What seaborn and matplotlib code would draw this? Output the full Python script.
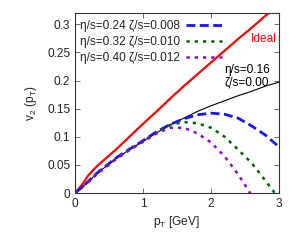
import matplotlib
matplotlib.use("Agg")
import matplotlib.pyplot as plt
import seaborn as sns
import numpy as np

pT = [0.0, 0.1, 0.2, 0.3, 0.4, 0.6, 0.8, 1.0, 1.2, 1.4, 1.6, 1.8, 2.0, 2.2, 2.4, 2.6, 2.8, 3.0]
v2_ideal = [0.0, 0.014, 0.032, 0.045, 0.056, 0.077, 0.100, 0.123, 0.145, 0.168, 0.190, 0.211, 0.232, 0.253, 0.274, 0.294, 0.315, 0.335]
v2_eta016 = [0.0, 0.010, 0.021, 0.032, 0.042, 0.061, 0.077, 0.092, 0.107, 0.121, 0.133, 0.145, 0.155, 0.164, 0.173, 0.181, 0.190, 0.197]
v2_eta024 = [0.0, 0.010, 0.021, 0.033, 0.043, 0.062, 0.078, 0.093, 0.109, 0.122, 0.132, 0.139, 0.142, 0.140, 0.133, 0.119, 0.103, 0.082]
v2_eta032 = [0.0, 0.010, 0.021, 0.032, 0.042, 0.061, 0.077, 0.092, 0.108, 0.121, 0.126, 0.124, 0.116, 0.100, 0.077, 0.053, 0.022, -0.010]
v2_eta040 = [0.0, 0.010, 0.020, 0.031, 0.041, 0.060, 0.076, 0.091, 0.106, 0.116, 0.116, 0.106, 0.090, 0.065, 0.033, -0.005, -0.045, -0.090]

legend_labels = ["η/s=0.24 ζ/s=0.008", "η/s=0.32 ζ/s=0.010", "η/s=0.40 ζ/s=0.012"]
xticks = [0, 1, 2, 3]
yticks = [0, 0.05, 0.1, 0.15, 0.2, 0.25, 0.3]
ytick_labels = ["0", "0.05", "0.1", "0.15", "0.2", "0.25", "0.3"]

sns.set_style("ticks")
plt.rcParams['font.family'] = ['Liberation Sans', 'DejaVu Sans']
plt.rcParams['mathtext.fontset'] = 'custom'
plt.rcParams['mathtext.rm'] = 'Liberation Sans'

fig = plt.figure(figsize=(2.96, 2.40), dpi=100)
ax = fig.add_axes([75/296, (240-193)/240, (279-75)/296, (193-13)/240])

fs = 8.6
sns.lineplot(x=pT, y=v2_ideal, ax=ax, color="#ff0000", lw=1.6)
sns.lineplot(x=pT, y=v2_eta016, ax=ax, color="black", lw=0.8)
sns.lineplot(x=pT, y=v2_eta024, ax=ax, color="#1414ff", lw=2.0, label=legend_labels[0],
             linestyle=(0, (3.2, 1.6)))
sns.lineplot(x=pT, y=v2_eta032, ax=ax, color="#006400", lw=1.8, label=legend_labels[1],
             linestyle=(0, (1.3, 2.0)))
sns.lineplot(x=pT, y=v2_eta040, ax=ax, color="#9400d3", lw=1.8, label=legend_labels[2],
             linestyle=(0, (1.3, 2.0)))

ax.set_xlim(0, 3)
ax.set_ylim(0, 0.32)
ax.set_xticks(xticks)
ax.set_xticklabels([str(t) for t in xticks])
ax.set_yticks(yticks)
ax.set_yticklabels(ytick_labels)
ax.tick_params(direction="in", length=3.5, width=0.6, color="#555555", labelsize=fs,
               top=True, right=True, pad=3.5)
for s in ax.spines.values():
    s.set_linewidth(0.8)
    s.set_color("#333333")

ax.set_xlabel(r"p$_\mathregular{T}$ [GeV]", fontsize=fs, labelpad=3)
ax.set_ylabel(r"v$_\mathregular{2}$ (p$_\mathregular{T}$)", fontsize=fs, labelpad=6)

ax.text(2.59, 0.274, "Ideal", color="#ff0000", fontsize=fs, ha="left", va="center")
ax.text(2.2, 0.218, "η/s=0.16", color="black", fontsize=fs, ha="left", va="center")
ax.text(2.2, 0.197, "ζ/s=0.00", color="black", fontsize=fs, ha="left", va="center")

leg = ax.legend(loc="upper left", bbox_to_anchor=(0.012, 0.975), frameon=False,
                fontsize=fs, markerfirst=False,
                handlelength=3.0, handletextpad=0.5, borderaxespad=0.0,
                borderpad=0.2, labelspacing=0.35)

fig.savefig("out.png", dpi=100)
